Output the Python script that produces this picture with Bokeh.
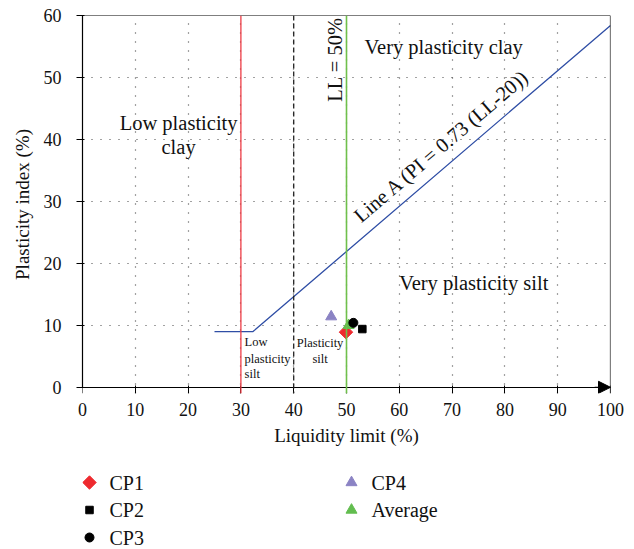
import math
from bokeh.plotting import figure
from bokeh.layouts import column
from bokeh.core.properties import value
from bokeh.models import (Span, Label, FixedTicker, Arrow, NormalHead, Range1d, LinearAxis)
from bokeh.embed import file_html
from bokeh.resources import INLINE

# ---- data ----
samples = ["CP1", "CP2", "CP3", "CP4", "Average"]
liquid_limit = [49.9, 53.0, 51.3, 47.1, 50.4]
plasticity_index = [8.9, 9.4, 10.4, 11.4, 10.0]

a_line_ll = [25, 32.3, 100]
a_line_pi = [9, 9, 58.4]

low_silt_ll = 30
mid_ll = 40
ll_50 = 50

x_ticks = list(range(0, 101, 10))
y_ticks = list(range(0, 61, 10))

# ---- styles / layout ----
marker_shapes = ["square", "square", "circle", "triangle", "triangle"]
marker_angles = [math.pi / 4, 0, 0, 0, 0]
marker_colors = ["#ee2a2f", "#000000", "#000000", "#8b83c4", "#62bd4f"]
marker_sizes = [9.5, 7.5, 9, 11, 11]
draw_order = [3, 0, 1, 4, 2]
legend_col = [0, 0, 0, 1, 1]
legend_row = [0, 1, 2, 0, 1]
legend_col_px = [89, 351]        # marker centre, page pixels
legend_row_px = [482, 509.5, 537]
legend_text_gap = 20

FONT = "Liberation Serif"
PAGE_H = 549
MAIN_H = 455
LEG_H = PAGE_H - MAIN_H

p = figure(width=634, height=MAIN_H, output_backend="svg", toolbar_location=None,
           x_range=Range1d(0, 100), y_range=Range1d(-1, 60),
           min_border_left=82, min_border_right=24, min_border_top=15,
           min_border_bottom=62)
p.background_fill_color = "white"
p.border_fill_color = "white"
p.outline_line_color = None

# main x axis: line + ticks at PI = 0 (labels come from a panel axis below)
xa = p.xaxis[0]
xa.fixed_location = 0
xa.major_label_text_color = None
ya = p.yaxis[0]
ya.bounds = (0, 60)
for ax, ticks in ((xa, x_ticks), (ya, y_ticks)):
    ax.ticker = FixedTicker(ticks=ticks)
    ax.axis_line_color = "black"
    ax.axis_line_width = 1.2
    ax.major_tick_line_color = "black"
    ax.major_tick_out = 6
    ax.major_tick_in = 2
    ax.minor_tick_line_color = None
ya.major_label_text_font = FONT
ya.major_label_text_font_size = "18px"
ya.major_label_text_color = "#111111"
ya.major_label_standoff = 15

def text_axis(ticks, label, bounds, label_standoff, tick_standoff=0):
    return LinearAxis(ticker=FixedTicker(ticks=ticks), bounds=bounds,
                      axis_line_color=None, major_tick_line_color=None,
                      minor_tick_line_color=None, major_tick_out=0, major_tick_in=0,
                      major_label_text_font=FONT, major_label_text_font_size="18px",
                      major_label_text_color="#111111",
                      major_label_standoff=tick_standoff,
                      axis_label=label, axis_label_text_font=FONT,
                      axis_label_text_font_size="19px",
                      axis_label_text_font_style="normal",
                      axis_label_text_color="#111111",
                      axis_label_standoff=label_standoff)

p.add_layout(text_axis([], "Plasticity index (%)", (7.9, 60), 8), "left")
p.add_layout(text_axis(x_ticks, None, "auto", 0, tick_standoff=9), "below")
p.add_layout(text_axis([], "Liquidity limit (%)", "auto", 6), "below")

p.xgrid.ticker = FixedTicker(ticks=x_ticks[1:-1])
p.ygrid.ticker = FixedTicker(ticks=y_ticks[1:-1])
p.xgrid.bounds = (0, 60)
for g in (p.xgrid[0], p.ygrid[0]):
    g.grid_line_color = "#444444"
    g.grid_line_dash = "1 8"
    g.grid_line_width = 1.2

# frame top and right edges
p.add_layout(Span(location=y_ticks[-1], dimension="width", line_color="black", line_width=1.2))
p.add_layout(Span(location=x_ticks[-1], dimension="height", line_color="black", line_width=1.2))

# boundary lines
p.add_layout(Span(location=low_silt_ll, dimension="height", line_color="#ee3b44", line_width=1.3))
p.add_layout(Span(location=mid_ll, dimension="height", line_color="#222222", line_width=1.3, line_dash="5 3"))
p.add_layout(Span(location=ll_50, dimension="height", line_color="#6fc04b", line_width=1.6))

# A-line
p.line(a_line_ll, a_line_pi, line_color="#2f4ea5", line_width=1.3)

# arrow on x axis
p.add_layout(Arrow(end=NormalHead(size=12, fill_color="black", line_color="black"),
                   x_start=97, y_start=0, x_end=100, y_end=0,
                   line_color="black", line_width=1.2))

# points
for i in draw_order:
    p.scatter([liquid_limit[i]], [plasticity_index[i]], marker=marker_shapes[i],
              size=marker_sizes[i], angle=marker_angles[i],
              fill_color=marker_colors[i], line_color=marker_colors[i])

# region labels
def lab(x, y, text, size="20.5px", angle=0.0, align="center"):
    p.add_layout(Label(x=x, y=y, text=text, angle=angle, text_font=FONT,
                       text_font_size=size, text_align=align,
                       text_baseline="middle", text_color="#111111"))

lab(18.2, 42.6, "Low plasticity")
lab(18.2, 38.7, "clay")
lab(68.4, 54.9, "Very plasticity clay")
lab(47.9, 52.9, "LL = 50%", angle=math.pi / 2)
lab(68.0, 39.0, "Line A (PI = 0.73 (LL-20))", angle=math.radians(40.5))
lab(74.1, 16.8, "Very plasticity silt")
lab(30.7, 7.3, "Low", size="12.5px", align="left")
lab(30.7, 4.6, "plasticity", size="12.5px", align="left")
lab(30.7, 2.1, "silt", size="12.5px", align="left")
lab(45.0, 7.1, "Plasticity", size="12.5px")
lab(45.0, 4.6, "silt", size="12.5px")

# legend strip below the chart; its coordinates are page pixels
lg = figure(width=634, height=LEG_H, output_backend="svg", toolbar_location=None,
            x_range=Range1d(82, 610), y_range=Range1d(0, LEG_H),
            x_axis_type=None, y_axis_type=None,
            min_border_left=82, min_border_right=24, min_border_top=0, min_border_bottom=0)
lg.outline_line_color = None
lg.grid.visible = False
lg.background_fill_color = "white"
lg.border_fill_color = "white"

leg_x = [legend_col_px[legend_col[i]] for i in range(len(samples))]
leg_y = [PAGE_H - legend_row_px[legend_row[i]] for i in range(len(samples))]
for i in range(len(samples)):
    lg.scatter([leg_x[i]], [leg_y[i]], marker=marker_shapes[i], size=marker_sizes[i],
               angle=marker_angles[i], fill_color=marker_colors[i],
               line_color=marker_colors[i])
lg.text(x=[x + legend_text_gap for x in leg_x], y=leg_y, text=samples,
        text_font=value(FONT), text_font_size=value("20px"), text_color="#111111",
        text_align="left", text_baseline="middle")

layout = column(p, lg, spacing=0)
open("out.html", "w").write(file_html(layout, INLINE))
